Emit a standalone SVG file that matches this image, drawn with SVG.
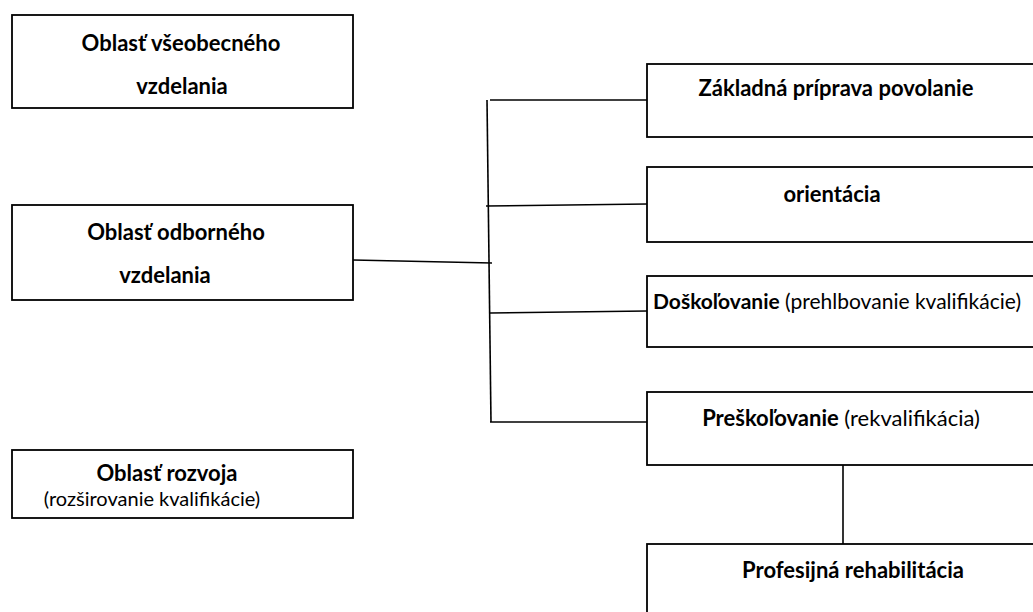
<svg xmlns="http://www.w3.org/2000/svg" width="1033" height="612" viewBox="0 0 1033 612">
<style>
.box{fill:#fff;stroke:#000;stroke-width:1.8}
.ln{fill:none;stroke:#000;stroke-width:1.6}
text{font-family:Lato,"Open Sans","Liberation Sans",sans-serif;font-size:22px;fill:#000}
.b{font-weight:bold}
</style>
<rect width="1033" height="612" fill="#fff"/>
<g id="connectors">
<line class="ln" x1="353" y1="260" x2="492" y2="263"/>
<line class="ln" x1="487" y1="100" x2="491" y2="422"/>
<line class="ln" x1="490" y1="100" x2="647" y2="100"/>
<line class="ln" x1="486" y1="206" x2="647" y2="204"/>
<line class="ln" x1="490" y1="313" x2="647" y2="311"/>
<line class="ln" x1="490" y1="422" x2="647" y2="422"/>
<line class="ln" x1="843" y1="465" x2="843" y2="544"/>
</g>
<g id="n-vseobecne">
<rect class="box" x="12" y="15" width="341" height="93"/>
<text class="b" x="181" y="51" text-anchor="middle">Oblasť všeobecného</text>
<text class="b" x="182" y="94" text-anchor="middle">vzdelania</text>
</g>
<g id="n-odborne">
<rect class="box" x="12" y="205" width="341" height="95"/>
<text class="b" x="176" y="240" text-anchor="middle">Oblasť odborného</text>
<text class="b" x="165" y="283" text-anchor="middle">vzdelania</text>
</g>
<g id="n-rozvoj">
<rect class="box" x="12" y="450" width="341" height="68"/>
<text class="b" x="167" y="481" text-anchor="middle">Oblasť rozvoja</text>
<text x="152" y="506" text-anchor="middle" style="font-size:20px">(rozširovanie kvalifikácie)</text>
</g>
<g id="n-zakladna">
<rect class="box" x="647" y="64" width="400" height="73"/>
<text class="b" x="836" y="96" text-anchor="middle">Základná príprava povolanie</text>
</g>
<g id="n-orientacia">
<rect class="box" x="647" y="167" width="400" height="75"/>
<text class="b" x="832" y="202" text-anchor="middle">orientácia</text>
</g>
<g id="n-doskolovanie">
<rect class="box" x="647" y="276" width="400" height="71"/>
<text x="837" y="309" text-anchor="middle" style="font-size:21px"><tspan class="b">Doškoľovanie</tspan> (prehlbovanie kvalifikácie)</text>
</g>
<g id="n-preskolovanie">
<rect class="box" x="647" y="392" width="400" height="73"/>
<text x="841" y="426" text-anchor="middle"><tspan class="b">Preškoľovanie</tspan> (rekvalifikácia)</text>
</g>
<g id="n-rehabilitacia">
<rect class="box" x="647" y="544" width="400" height="80"/>
<text class="b" x="853" y="578" text-anchor="middle">Profesijná rehabilitácia</text>
</g>
</svg>
